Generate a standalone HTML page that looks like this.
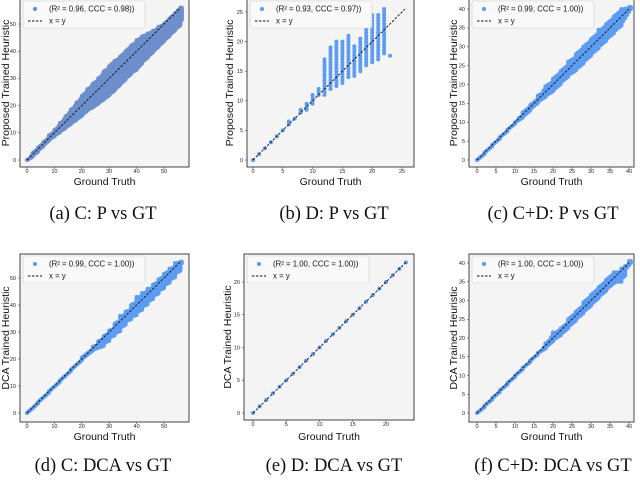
<!DOCTYPE html>
<html><head><meta charset="utf-8"><style>
body{margin:0;background:#fff;width:640px;height:477px;overflow:hidden}
svg text{font-family:"Liberation Sans","DejaVu Sans",sans-serif}
.cap{font-family:"Liberation Serif","DejaVu Serif",serif;font-size:18.5px}
</style></head><body>
<svg id="fig" width="640" height="477" viewBox="0 0 640 477" xmlns="http://www.w3.org/2000/svg"></svg>
<script>
// Panel (a) C: P vs GT
const aGt=[0,2,4,6,8,10,12,14,16,18,20,22,24,26,28,30,32,34,36,38,40,42,44,46,48,50,52,54,55,56];
const aLo=[0,1.5,3.5,5.5,7.5,9,10.5,12,13.5,15,16.5,18.5,19.5,21,22.5,24,26,28,30,32,33.5,36,38,40,42,44,46,48,50,52];
const aHi=[0,2.5,4.5,6.5,9,11,13.5,16,18.5,21,23.5,26,28,30,32.5,34.5,36.5,38,40,42,44,45.5,46.5,47.5,49,50,52,54,55,56];
// Panel (b) D: P vs GT
const bGt=[0,1,2,3,4,5,6,7,8,9,10,11,12,13,14,15,16,17,18,19,20,21,22,23];
const bLo=[0,1,2,3,4,5,6,7,8,8.5,9.5,11,11,12,12.5,13,14,14.2,15,16,16.5,17,18,17.6];
const bHi=[0,1,2,3,4,5,6.7,7,8.5,9.8,11,12.3,17,19,20,20,21,19.5,20.5,22,24.5,24.5,25.8,17.8];
// Panel (c) C+D: P vs GT
const cGt=[0,2,4,6,8,10,12,14,16,18,20,22,24,26,28,30,32,34,36,38,40];
const cLo=[0,2,4,6,8,10,11.5,13.5,15.5,17,18.5,20.5,22.5,24,26,28,30,32,34,36,40];
const cHi=[0,2,4,6,8,10.3,12.5,14.8,17,19.5,21.5,23.5,26,28,30,32,34.5,36,38,40,40.5];
// Panel (d) C: DCA vs GT
const dGt=[0,4,8,12,16,20,24,26,28,30,32,34,36,38,40,42,44,46,48,50,52,54,56];
const dLo=[0,4,8,12,16,20,23.5,25,27,29,30.5,33,35,36.5,38.5,40.5,42.5,44.5,46.5,48.5,50.5,53,56];
const dHi=[0,4,8,12,16,20.5,24.5,26.5,28.5,30.5,33,36,37.5,40,43,44.5,46,47.5,49.5,51.5,53.5,55.5,56];
// Panel (e) D: DCA vs GT
const eGt=[0,1,2,3,4,5,6,7,8,9,10,11,12,13,14,15,16,17,18,19,20,21,22,23];
const eLo=eGt.slice();
const eHi=eGt.slice();
// Panel (f) C+D: DCA vs GT
const fGt=[0,2,4,6,8,10,12,14,16,18,20,22,24,26,28,30,32,34,36,37,38,40];
const fLo=[0,2,4,6,8,10,12,14,16,17.5,19.5,21,23,25,27,29,31,33,35,35,37,40];
const fHi=[0,2,4,6,8,10,12,14,16,18.5,21.5,22.5,25,27,29.5,31.5,33.5,35.5,37.5,37.5,38.5,40.5];

const NS="http://www.w3.org/2000/svg";
const svg=document.getElementById('fig');
function mk(tag,attrs,parent){const e=document.createElementNS(NS,tag);for(const k in attrs)e.setAttribute(k,attrs[k]);(parent||svg).appendChild(e);return e;}

const panels=[
 {id:'a',gt:aGt,lo:aLo,hi:aHi,L:20,R:189,T:-1,B:167,x0:27,x1:164,xv:50,y0:160,y1:24,yv:50,ticks:[0,10,20,30,40,50],lineMax:56,col:'#6d8fcc',span:2,ylab:'Proposed Trained Heuristic',ylx:6,leg:'(R² = 0.96, CCC = 0.98))',cap:'(a) C: P vs GT',capx:103,capy:219,tky:173,gty:185},
 {id:'b',gt:bGt,lo:bLo,hi:bHi,L:247,R:414,T:-1,B:167,x0:253,x1:402,xv:25,y0:160,y1:12,yv:25,ticks:[0,5,10,15,20,25],lineMax:25.5,col:'#5d9cf2',span:0,ylab:'Proposed Trained Heuristic',ylx:230,leg:'(R² = 0.93, CCC = 0.97))',cap:'(b) D: P vs GT',capx:334,capy:219,tky:173,gty:185},
 {id:'c',gt:cGt,lo:cLo,hi:cHi,L:469,R:634,T:-1,B:167,x0:477,x1:629,xv:40,y0:160,y1:9,yv:40,ticks:[0,5,10,15,20,25,30,35,40],lineMax:40,col:'#5d9cf2',span:2,ylab:'Proposed Trained Heuristic',ylx:454,leg:'(R² = 0.99, CCC = 1.00))',cap:'(c) C+D: P vs GT',capx:553,capy:219,tky:173,gty:185},
 {id:'d',gt:dGt,lo:dLo,hi:dHi,L:20,R:189,T:254,B:422,x0:27,x1:164,xv:50,y0:413,y1:278,yv:50,ticks:[0,10,20,30,40,50],lineMax:56,col:'#5d9cf2',span:4,ylab:'DCA Trained Heuristic',ylx:6,leg:'(R² = 0.99, CCC = 1.00))',cap:'(d) C: DCA vs GT',capx:103,capy:471,tky:428,gty:440},
 {id:'e',gt:eGt,lo:eLo,hi:eHi,L:244,R:414,T:254,B:420,x0:253,x1:386,xv:20,y0:413,y1:282,yv:20,ticks:[0,5,10,15,20],lineMax:23,col:'#5d9cf2',span:0,ylab:'DCA Trained Heuristic',ylx:228,leg:'(R² = 1.00, CCC = 1.00))',cap:'(e) D: DCA vs GT',capx:334,capy:471,tky:426,gty:440},
 {id:'f',gt:fGt,lo:fLo,hi:fHi,L:469,R:634,T:254,B:422,x0:477,x1:629,xv:40,y0:413,y1:263,yv:40,ticks:[0,5,10,15,20,25,30,35,40],lineMax:40,col:'#5d9cf2',span:2,ylab:'DCA Trained Heuristic',ylx:454,leg:'(R² = 1.00, CCC = 1.00))',cap:'(f) C+D: DCA vs GT',capx:553,capy:471,tky:428,gty:440}
];

panels.forEach(p=>{
  const g=mk('g',{});
  
  
  const sx=v=>p.x0+(p.x1-p.x0)*v/p.xv;
  const sy=v=>p.y0+(p.y1-p.y0)*v/p.yv;
  const bg=mk('rect',{x:p.L,y:p.T,width:p.R-p.L,height:p.B-p.T,fill:'#f4f4f4',stroke:'none'},g);
  
  
  const pts=mk('g',{fill:p.col},g);
  
  
  for(let i=0;i<p.gt.length;i++){
    const xs=[];
    for(let dx=0;dx<=p.span;dx+=0.5){ if(p.gt[i]+dx<=p.lineMax+0.5) xs.push(p.gt[i]+dx); }
    xs.forEach((xv,k)=>{
      const f=p.span?k/Math.max(1,xs.length):0;
      const nl=i+1<p.gt.length?p.lo[i]+(p.lo[i+1]-p.lo[i])*f:p.lo[i];
      const nh=i+1<p.gt.length?p.hi[i]+(p.hi[i+1]-p.hi[i])*f:p.hi[i];
      for(let yv=nl;yv<=nh+0.01;yv+=0.5){
        const c=mk('circle',{cx:sx(xv).toFixed(1),cy:sy(yv).toFixed(1),r:2},pts);
        
        
      }
    });
  }
  const ln=mk('line',{x1:sx(0),y1:sy(0),x2:sx(p.lineMax),y2:sy(p.lineMax),stroke:'#111','stroke-width':0.9,'stroke-dasharray':'2.5,1.5'},g);
  
  
  const fr=mk('rect',{x:p.L,y:p.T,width:p.R-p.L,height:p.B-p.T,fill:'none',stroke:'#444','stroke-width':1},g);
  
  
  p.ticks.forEach(t=>{
    const tx=mk('text',{x:sx(t),y:p.tky,'font-size':5.5,'text-anchor':'middle',fill:'#222'},g);
    tx.textContent=t;
    
    
    mk('line',{x1:sx(t),x2:sx(t),y1:p.B,y2:p.B+2,stroke:'#444','stroke-width':0.6},g);
    if(sy(t)>p.T+3){
      const ty=mk('text',{x:p.L-4,y:sy(t)+1.8,'font-size':5.5,'text-anchor':'end',fill:'#222'},g);
      ty.textContent=t;
      
      
      mk('line',{x1:p.L-2,x2:p.L,y1:sy(t),y2:sy(t),stroke:'#444','stroke-width':0.6},g);
    }
  });
  const xl=mk('text',{x:(p.L+p.R)/2,y:p.gty,'font-size':10.5,'text-anchor':'middle',fill:'#111'},g);
  xl.textContent='Ground Truth';
  
  
  const cy=(p.T+p.B)/2;
  const yl=mk('text',{x:p.ylx,y:cy,'font-size':10.5,'text-anchor':'middle',fill:'#111',transform:`rotate(-90 ${p.ylx} ${cy})`,'dominant-baseline':'central'},g);
  yl.textContent=p.ylab;
  
  
  const lg=mk('g',{},g);
  
  
  mk('rect',{x:p.L+3,y:p.T+2,width:122,height:27,rx:2,fill:'#fafafa',stroke:'#ccc','stroke-width':0.6,opacity:0.9},lg);
  mk('circle',{cx:p.L+15,cy:p.T+10,r:2.1,fill:p.col},lg);
  mk('line',{x1:p.L+8,x2:p.L+22,y1:p.T+22,y2:p.T+22,stroke:'#111','stroke-width':0.9,'stroke-dasharray':'2.5,1.5'},lg);
  const t1=mk('text',{x:p.L+29,y:p.T+12.5,'font-size':7.8,fill:'#111'},lg);
  t1.textContent=p.leg;
  
  
  const t2=mk('text',{x:p.L+29,y:p.T+24.5,'font-size':7.8,fill:'#111'},lg);
  t2.textContent='x = y';
  
  
  const cp=mk('text',{x:p.capx,y:p.capy,'text-anchor':'middle',class:'cap',fill:'#111'},g);
  cp.textContent=p.cap;
  
  
});
</script>
</body></html>
